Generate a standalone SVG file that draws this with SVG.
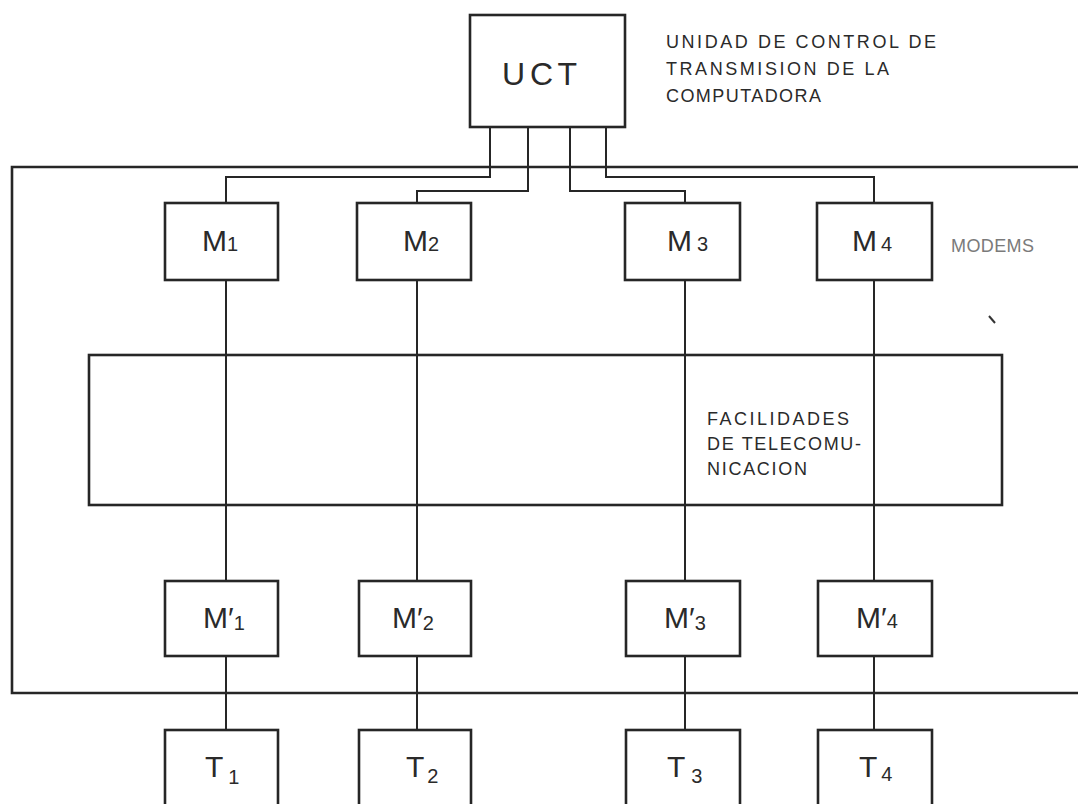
<svg xmlns="http://www.w3.org/2000/svg" width="1078" height="804" viewBox="0 0 1078 804">
<style>
.box{fill:none;stroke:#262626;stroke-width:2.6}
.ln{fill:none;stroke:#262626;stroke-width:2}
.lbl{font-family:"Liberation Sans",Arial,sans-serif;fill:#2a2a2a}
.big{font-size:30px}
.sub{font-size:20px}
.note{font-size:18px}
</style>
<rect width="1078" height="804" fill="#ffffff"/>
<g id="connectors">
<path class="box" d="M1078,167 H12 V693 H1078"/>
<path class="ln" d="M490,127 V177 H226 V203"/>
<path class="ln" d="M528,127 V191 H417 V203"/>
<path class="ln" d="M570,127 V191 H685 V203"/>
<path class="ln" d="M606,127 V177 H874 V203"/>
<path class="ln" d="M226,280 V581 M226,656 V730"/>
<path class="ln" d="M417,280 V581 M417,656 V730"/>
<path class="ln" d="M685,280 V581 M685,656 V730"/>
<path class="ln" d="M874,280 V581 M874,656 V730"/>
<path d="M989,316 L995,323" stroke="#333" stroke-width="2"/>
</g>
<g id="uct">
<rect class="box" x="470" y="15" width="155" height="112"/>
<text class="lbl" x="502" y="85" font-size="32" textLength="75" lengthAdjust="spacing">U C T</text>
</g>
<g id="uct-label">
<text class="lbl note" x="666" y="48" textLength="270" lengthAdjust="spacing">UNIDAD DE CONTROL DE</text>
<text class="lbl note" x="666" y="75" textLength="223" lengthAdjust="spacing">TRANSMISION DE LA</text>
<text class="lbl note" x="666" y="102" textLength="155" lengthAdjust="spacing">COMPUTADORA</text>
</g>
<g id="m1"><rect class="box" x="165" y="203" width="113" height="77"/><text class="lbl big" x="202" y="251">M<tspan class="sub">1</tspan></text></g>
<g id="m2"><rect class="box" x="357" y="203" width="114" height="77"/><text class="lbl big" x="403" y="251">M<tspan class="sub">2</tspan></text></g>
<g id="m3"><rect class="box" x="625" y="203" width="115" height="77"/><text class="lbl big" x="667" y="251">M<tspan class="sub" dx="5">3</tspan></text></g>
<g id="m4"><rect class="box" x="817" y="203" width="115" height="77"/><text class="lbl big" x="852" y="251">M<tspan class="sub" dx="4">4</tspan></text></g>
<g id="modems-label"><text class="lbl" x="951" y="252" font-size="18" style="fill:#7a7a7a" textLength="83" lengthAdjust="spacing">MODEMS</text></g>
<g id="facilidades">
<rect class="box" x="89" y="355" width="913" height="150"/>
<text class="lbl note" x="707" y="425" textLength="142" lengthAdjust="spacing">FACILIDADES</text>
<text class="lbl note" x="707" y="450" textLength="154" lengthAdjust="spacing">DE TELECOMU-</text>
<text class="lbl note" x="707" y="475" textLength="100" lengthAdjust="spacing">NICACION</text>
</g>
<g id="mp1"><rect class="box" x="165" y="581" width="113" height="75"/><text class="lbl big" x="203" y="628">M′<tspan class="sub" dy="2">1</tspan></text></g>
<g id="mp2"><rect class="box" x="359" y="581" width="112" height="75"/><text class="lbl big" x="392" y="628">M′<tspan class="sub" dy="2">2</tspan></text></g>
<g id="mp3"><rect class="box" x="626" y="581" width="114" height="75"/><text class="lbl big" x="664" y="628">M′<tspan class="sub" dy="2">3</tspan></text></g>
<g id="mp4"><rect class="box" x="818" y="581" width="114" height="75"/><text class="lbl big" x="856" y="628">M′<tspan class="sub">4</tspan></text></g>
<g id="t1"><rect class="box" x="165" y="730" width="113" height="80"/><text class="lbl big" x="205" y="777">T<tspan class="sub" dx="5" dy="7">1</tspan></text></g>
<g id="t2"><rect class="box" x="359" y="730" width="112" height="80"/><text class="lbl big" x="406" y="777">T<tspan class="sub" dx="3" dy="6">2</tspan></text></g>
<g id="t3"><rect class="box" x="626" y="730" width="114" height="80"/><text class="lbl big" x="667" y="777">T<tspan class="sub" dx="6" dy="6">3</tspan></text></g>
<g id="t4"><rect class="box" x="818" y="730" width="114" height="80"/><text class="lbl big" x="859" y="777">T<tspan class="sub" dx="4" dy="4">4</tspan></text></g>
</svg>
